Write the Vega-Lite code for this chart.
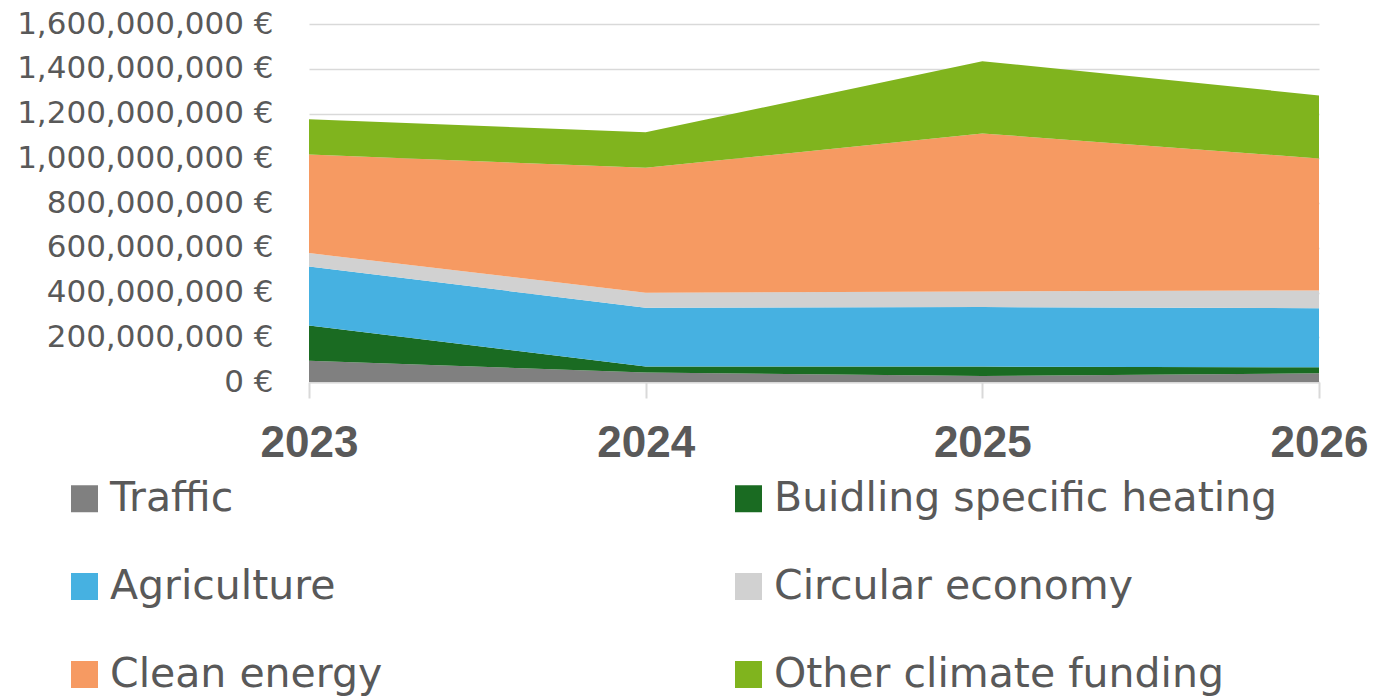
{
  "$schema": "https://vega.github.io/schema/vega-lite/v6.json",
  "width": 1010,
  "height": 358,
  "autosize": "none",
  "padding": {"left": 309, "top": 24, "right": 56, "bottom": 318},
  "background": "white",
  "config": {
    "view": {"stroke": null},
    "font": "DejaVu Sans"
  },
  "data": {
    "values": [
      {"year": "2023", "category": "Traffic", "amount": 95000000},
      {"year": "2023", "category": "Buidling specific heating", "amount": 158000000},
      {"year": "2023", "category": "Agriculture", "amount": 263000000},
      {"year": "2023", "category": "Circular economy", "amount": 60000000},
      {"year": "2023", "category": "Clean energy", "amount": 441000000},
      {"year": "2023", "category": "Other climate funding", "amount": 157000000},
      {"year": "2024", "category": "Traffic", "amount": 42000000},
      {"year": "2024", "category": "Buidling specific heating", "amount": 27000000},
      {"year": "2024", "category": "Agriculture", "amount": 263000000},
      {"year": "2024", "category": "Circular economy", "amount": 67000000},
      {"year": "2024", "category": "Clean energy", "amount": 558000000},
      {"year": "2024", "category": "Other climate funding", "amount": 159000000},
      {"year": "2025", "category": "Traffic", "amount": 27000000},
      {"year": "2025", "category": "Buidling specific heating", "amount": 42000000},
      {"year": "2025", "category": "Agriculture", "amount": 266000000},
      {"year": "2025", "category": "Circular economy", "amount": 70000000},
      {"year": "2025", "category": "Clean energy", "amount": 706000000},
      {"year": "2025", "category": "Other climate funding", "amount": 323000000},
      {"year": "2026", "category": "Traffic", "amount": 39000000},
      {"year": "2026", "category": "Buidling specific heating", "amount": 27000000},
      {"year": "2026", "category": "Agriculture", "amount": 264000000},
      {"year": "2026", "category": "Circular economy", "amount": 79000000},
      {"year": "2026", "category": "Clean energy", "amount": 590000000},
      {"year": "2026", "category": "Other climate funding", "amount": 282000000}
    ]
  },
  "transform": [
    {"calculate": "indexof(['Traffic', 'Buidling specific heating', 'Agriculture', 'Circular economy', 'Clean energy', 'Other climate funding'], datum.category)", "as": "stackOrder"}
  ],
  "mark": {"type": "area", "interpolate": "linear"},
  "encoding": {
    "x": {
      "field": "year",
      "type": "ordinal",
      "scale": {"type": "point", "padding": 0},
      "axis": {
        "title": null,
        "labelAngle": 0,
        "labelFont": "Liberation Sans",
        "labelFontSize": 44,
        "labelFontWeight": "bold",
        "labelColor": "#595959",
        "labelPadding": 23,
        "tickSize": 16,
        "tickColor": "#d9d9d9",
        "tickWidth": 2,
        "domainColor": "#d9d9d9",
        "domainWidth": 2,
        "grid": false
      }
    },
    "y": {
      "field": "amount",
      "type": "quantitative",
      "stack": "zero",
      "scale": {"domain": [0, 1600000000], "nice": false},
      "axis": {
        "title": null,
        "values": [0, 200000000, 400000000, 600000000, 800000000, 1000000000, 1200000000, 1400000000, 1600000000],
        "labelExpr": "format(datum.value, ',') + ' €'",
        "labelFont": "DejaVu Sans",
        "labelFontSize": 31,
        "labelColor": "#595959",
        "labelPadding": 36,
        "labelLimit": 400,
        "ticks": false,
        "domain": false,
        "grid": true,
        "gridColor": "#d9d9d9",
        "gridWidth": 1.5
      }
    },
    "order": {"field": "stackOrder", "type": "quantitative", "sort": "ascending"},
    "color": {
      "field": "category",
      "type": "nominal",
      "sort": ["Traffic", "Buidling specific heating", "Agriculture", "Circular economy", "Clean energy", "Other climate funding"],
      "scale": {
        "domain": ["Traffic", "Buidling specific heating", "Agriculture", "Circular economy", "Clean energy", "Other climate funding"],
        "range": ["#808080", "#1a6b22", "#46b1e1", "#d1d1d1", "#f69a62", "#80b41e"]
      },
      "legend": {
        "title": null,
        "orient": "none",
        "legendX": -245,
        "legendY": 454,
        "columns": 2,
        "direction": "horizontal",
        "symbolType": "square",
        "symbolSize": 729,
        "symbolStrokeWidth": 0,
        "symbolOpacity": 1,
        "labelFont": "DejaVu Sans",
        "labelFontSize": 41,
        "labelColor": "#595959",
        "labelOffset": 5,
        "labelLimit": 700,
        "columnPadding": 345,
        "rowPadding": 46
      }
    }
  }
}
